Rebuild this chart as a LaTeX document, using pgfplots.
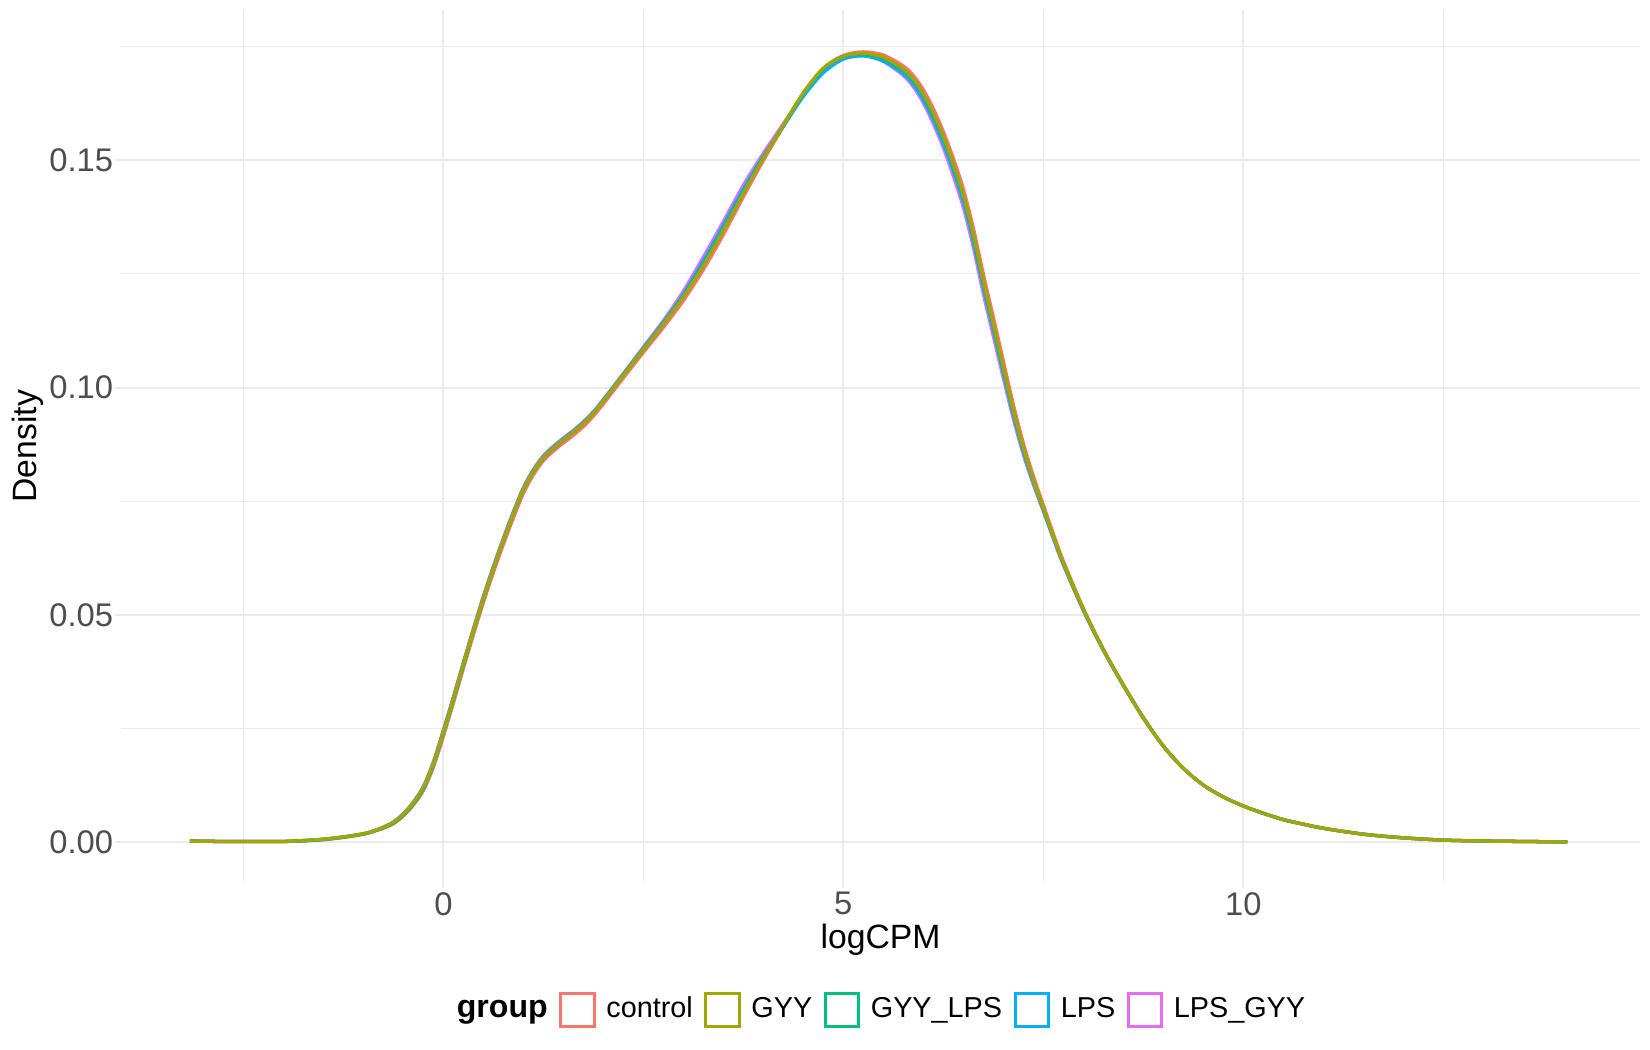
\documentclass[border=0pt]{standalone}
\usepackage{fontspec}
\setmainfont{Liberation Sans}
\usepackage{pgfplots}
\usepackage{pgfplotstable}
\pgfplotsset{compat=1.18}
\definecolor{cControl}{HTML}{F8766D}
\definecolor{cGYY}{HTML}{A3A500}
\definecolor{cGYYLPS}{HTML}{00BF7D}
\definecolor{cLPS}{HTML}{00B0F6}
\definecolor{cLPSGYY}{HTML}{E76BF3}
\definecolor{gridc}{HTML}{EBEBEB}
\definecolor{tickc}{HTML}{4D4D4D}

% density curves
\pgfplotstableread{
x       control  gyy     gyylps  lps     lpsgyy
-3.17   0.0003   0.0003  0.0003  0.0003  0.0003
-2.75   0.0002   0.0002  0.0002  0.0002  0.0002
-2.25   0.0002   0.0002  0.0002  0.0002  0.0002
-2.00   0.0002   0.0002  0.0002  0.0002  0.0002
-1.75   0.0004   0.0004  0.0003  0.0004  0.0004
-1.50   0.0006   0.0007  0.0006  0.0007  0.0007
-1.25   0.0011   0.0012  0.0011  0.0012  0.0012
-1.000  0.0018   0.0019  0.0018  0.0019  0.0019
-0.875  0.0024   0.0025  0.0024  0.0025  0.0025
-0.750  0.0031   0.0033  0.0032  0.0033  0.0034
-0.625  0.0041   0.0044  0.0042  0.0044  0.0045
-0.500  0.0058   0.0062  0.0060  0.0063  0.0063
-0.375  0.0082   0.0087  0.0084  0.0088  0.0089
-0.250  0.0114   0.0121  0.0118  0.0122  0.0123
-0.125  0.0165   0.0174  0.0171  0.0175  0.0177
0.000   0.0233   0.0243  0.0240  0.0245  0.0247
0.125   0.0306   0.0316  0.0313  0.0318  0.0320
0.250   0.0382   0.0392  0.0389  0.0394  0.0396
0.375   0.0456   0.0466  0.0464  0.0468  0.0470
0.500   0.0527   0.0537  0.0535  0.0539  0.0541
0.625   0.0593   0.0603  0.0602  0.0605  0.0607
0.750   0.0655   0.0665  0.0664  0.0667  0.0669
0.875   0.0713   0.0723  0.0722  0.0725  0.0727
1.000   0.0767   0.0776  0.0775  0.0778  0.0780
1.125   0.0808   0.0816  0.0815  0.0818  0.0820
1.250   0.0839   0.0846  0.0845  0.0848  0.0850
1.375   0.0860   0.0867  0.0866  0.0869  0.0871
1.500   0.0878   0.0885  0.0884  0.0887  0.0889
1.625   0.0895   0.0902  0.0902  0.0904  0.0906
1.750   0.0914   0.0921  0.0921  0.0923  0.0925
1.875   0.0937   0.0943  0.0943  0.0945  0.0947
2.000   0.0964   0.0970  0.0970  0.0972  0.0974
2.25    0.1021   0.1027  0.1027  0.1029  0.1031
2.50    0.1077   0.1083  0.1083  0.1086  0.1089
2.75    0.1132   0.1139  0.1140  0.1143  0.1147
3.00    0.1191   0.1199  0.1201  0.1205  0.1212
3.25    0.1259   0.1268  0.1271  0.1278  0.1287
3.50    0.1336   0.1345  0.1348  0.1356  0.1365
3.75    0.1419   0.1427  0.1428  0.1436  0.1445
4.00    0.1499   0.1504  0.1505  0.1508  0.1515
4.25    0.1574   0.1576  0.1576  0.1574  0.1580
4.50    0.1647   0.1648  0.1647  0.1640  0.1645
4.75    0.1702   0.1702  0.1701  0.1692  0.1698
5.00    0.1730   0.1728  0.1728  0.1722  0.1725
5.25    0.1738   0.1735  0.1733  0.1729  0.1731
5.50    0.1731   0.1726  0.1723  0.1718  0.1717
5.75    0.1707   0.1700  0.1697  0.1690  0.1686
5.875   0.1686   0.1678  0.1675  0.1667  0.1661
6.00    0.1655   0.1646  0.1643  0.1633  0.1626
6.125   0.1613   0.1603  0.1599  0.1589  0.1580
6.25    0.1563   0.1552  0.1548  0.1537  0.1527
6.375   0.1504   0.1492  0.1488  0.1477  0.1465
6.50    0.1437   0.1424  0.1420  0.1409  0.1396
6.625   0.1351   0.1337  0.1333  0.1322  0.1308
6.75    0.1250   0.1235  0.1231  0.1221  0.1206
6.875   0.1155   0.1140  0.1136  0.1127  0.1113
7.00    0.1059   0.1045  0.1041  0.1033  0.1021
7.125   0.0963   0.0951  0.0948  0.0941  0.0931
7.25    0.0878   0.0868  0.0865  0.0860  0.0853
7.375   0.0806   0.0798  0.0796  0.0792  0.0787
7.50    0.0742   0.0736  0.0734  0.0731  0.0728
7.625   0.0679   0.0674  0.0673  0.0670  0.0668
7.75    0.0619   0.0615  0.0614  0.0612  0.0610
8.00    0.0515   0.0513  0.0512  0.0511  0.0510
8.25    0.0425   0.0424  0.0424  0.0423  0.0422
8.50    0.0347   0.0346  0.0346  0.0345  0.0345
8.75    0.0275   0.0274  0.0274  0.0274  0.0273
9.00    0.0212   0.0212  0.0212  0.0212  0.0211
9.25    0.0163   0.0163  0.0163  0.0163  0.0163
9.50    0.0126   0.0126  0.0126  0.0126  0.0126
9.75    0.0100   0.0100  0.0100  0.0100  0.0100
10.00   0.0080   0.0080  0.0080  0.0080  0.0080
10.25   0.0064   0.0064  0.0064  0.0064  0.0064
10.50   0.0050   0.0050  0.0050  0.0050  0.0050
10.75   0.0040   0.0040  0.0040  0.0040  0.0040
11.00   0.0031   0.0031  0.0031  0.0031  0.0031
11.50   0.0018   0.0018  0.0018  0.0018  0.0018
12.00   0.0010   0.0010  0.0010  0.0010  0.0010
12.50   0.0005   0.0005  0.0005  0.0005  0.0005
13.00   0.0003   0.0003  0.0003  0.0003  0.0003
13.50   0.0002   0.0002  0.0002  0.0002  0.0002
14.05   0.0001   0.0001  0.0001  0.0001  0.0001
}\dens

\begin{document}
\begin{tikzpicture}
\path[use as bounding box] (-36.96pt,-51.3pt) rectangle (467.04pt,269.4pt);
\begin{axis}[
  at={(0,0)}, anchor=south west,
  scale only axis, width=464pt, height=266.2pt,
  xmin=-4.03, xmax=14.96, ymin=-0.0087, ymax=0.1829,
  xtick={0,5,10}, ytick={0,0.05,0.1,0.15},
  minor xtick={-2.5,2.5,7.5,12.5},
  minor ytick={0.025,0.075,0.125,0.175},
  xtick pos=bottom, ytick pos=left,
  grid=both,
  major grid style={draw=gridc, line width=0.6pt},
  minor grid style={draw=gridc, line width=0.4pt},
  axis line style={draw=none},
  tick align=outside,
  major tick length=1.7pt, minor tick length=0pt,
  tick style={draw=gridc, line width=0.6pt},
  /pgf/number format/assume math mode=true,
  yticklabel style={/pgf/number format/fixed, /pgf/number format/fixed zerofill, /pgf/number format/precision=2},
  ticklabel style={font=\fontsize{10}{12}\selectfont, text=tickc},
  yticklabel style={anchor=east, inner sep=0pt, xshift=-0.5pt},
  xticklabel style={anchor=north, inner sep=0pt, yshift=-1.3pt},
  xlabel={logCPM}, ylabel={Density},
  label style={font=\fontsize{10.3}{12}\selectfont},
  xlabel style={at={(axis description cs:0.5,0)}, anchor=center, yshift=-17.7pt},
  ylabel style={at={(axis description cs:-0.0616,0.5)}, anchor=center},
  legend columns=-1,
  legend style={draw=none, fill=none, at={(axis description cs:0.5,0)}, anchor=center,
    xshift=-1.5pt, yshift=-39.1pt,
    font=\fontsize{8.8}{10}\selectfont, nodes={inner sep=0pt},
    /tikz/every odd column/.append style={column sep=3.3pt},
    /tikz/every even column/.append style={column sep=3.5pt}},
  legend image code/.code={\draw[#1, line width=0.9pt] (0pt,-5.1pt) rectangle (10.2pt,5.1pt);},
  every axis plot/.append style={line width=1pt},
]
\addlegendimage{empty legend}
\addlegendentry{\raisebox{-0.7pt}{\fontsize{9.8}{10}\selectfont\bfseries group}}
\addlegendimage{cControl}\addlegendentry{control}
\addlegendimage{cGYY}\addlegendentry{GYY}
\addlegendimage{cGYYLPS}\addlegendentry{GYY\_LPS}
\addlegendimage{cLPS}\addlegendentry{LPS}
\addlegendimage{cLPSGYY}\addlegendentry{LPS\_GYY}

\addplot[cControl, smooth, forget plot] table[x=x, y=control] {\dens};
\addplot[cLPSGYY, smooth, forget plot] table[x=x, y=lpsgyy] {\dens};
\addplot[cLPS, smooth, forget plot] table[x=x, y=lps] {\dens};
\addplot[cGYYLPS, smooth, forget plot] table[x=x, y=gyylps] {\dens};
\addplot[cGYY, smooth, forget plot] table[x=x, y=gyy] {\dens};
\end{axis}
\end{tikzpicture}
\end{document}
